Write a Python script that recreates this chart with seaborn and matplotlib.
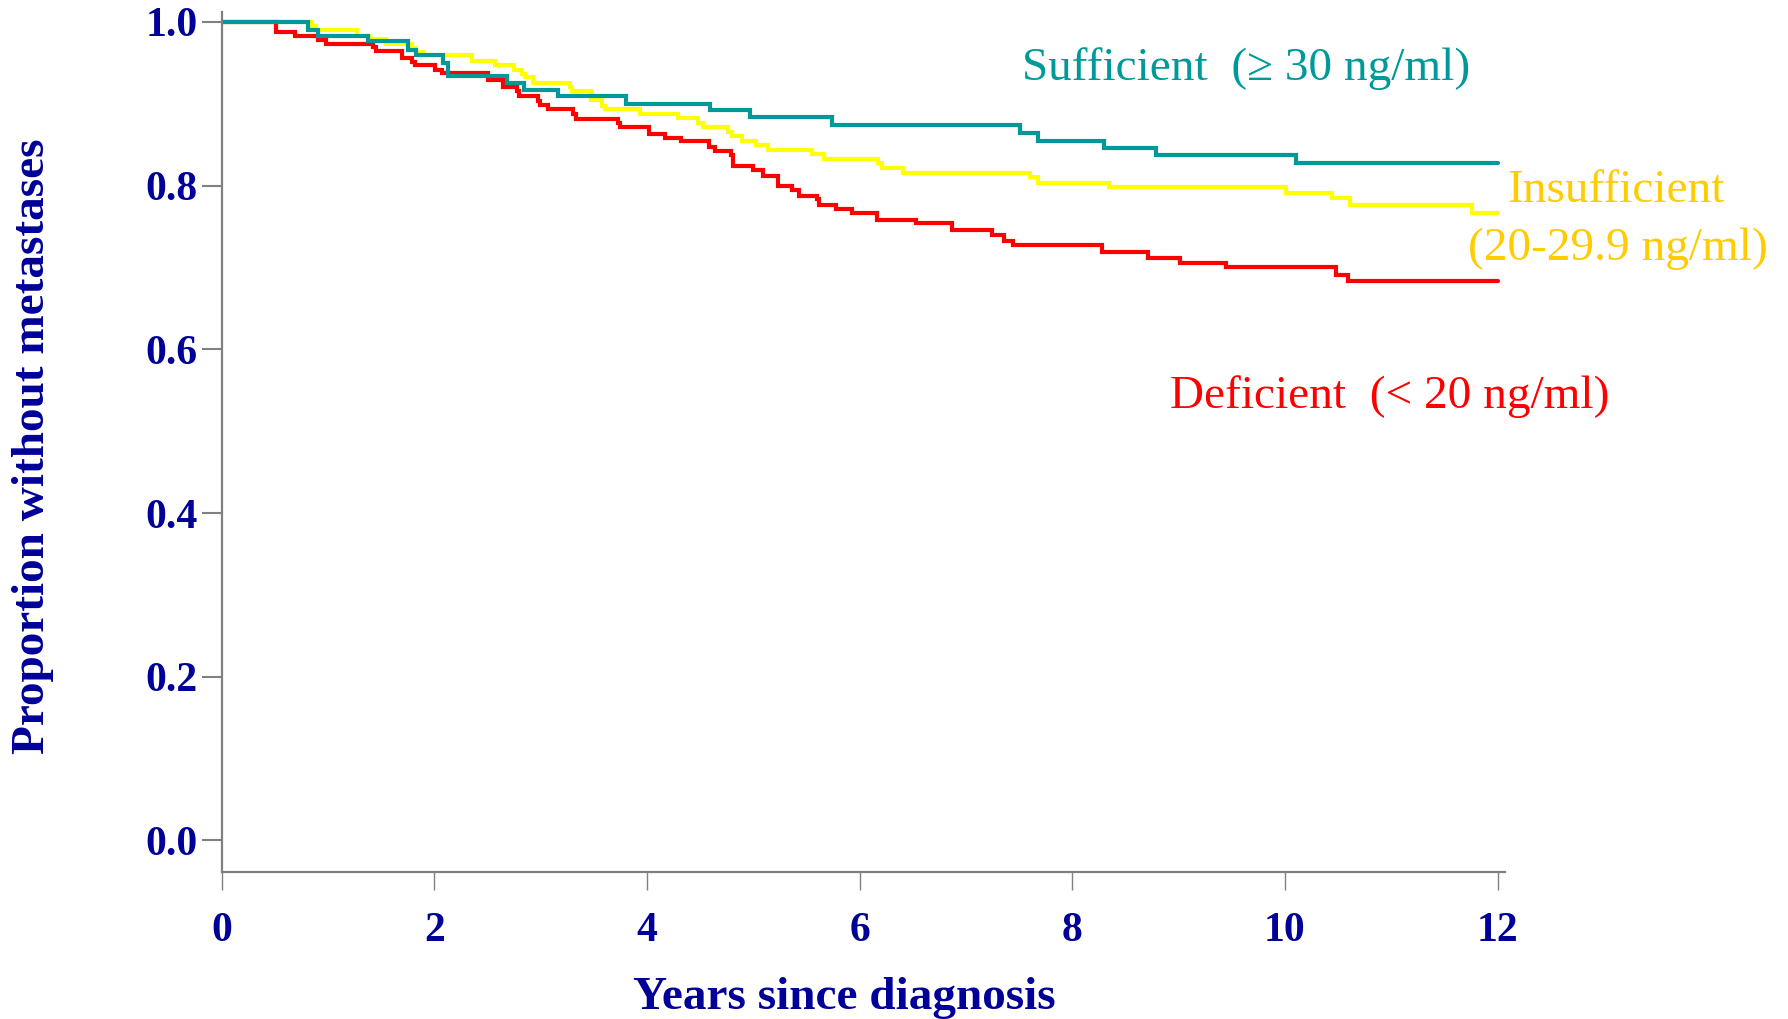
import numpy as np
import pandas as pd
import matplotlib
matplotlib.use("Agg")
import matplotlib.pyplot as plt
import seaborn as sns

# ---- data ----
groups = ["Insufficient", "Deficient", "Sufficient"]

suff_t = [0, 0.815, 0.903, 1.379, 1.755, 1.827, 2.078, 2.131, 2.680, 2.843, 3.166,
          3.802, 4.592, 4.969, 5.737, 7.508, 7.680, 8.298, 8.787, 10.103, 12.0]
suff_s = [1.0, 0.990, 0.983, 0.976, 0.966, 0.959, 0.950, 0.934, 0.925, 0.917, 0.910,
          0.900, 0.892, 0.884, 0.874, 0.864, 0.854, 0.846, 0.837, 0.827, 0.827]

insuff_t = [0, 0.846, 0.883, 1.270, 1.385, 1.542, 1.786, 1.827, 1.896, 2.351, 2.570,
            2.749, 2.821, 2.852, 2.931, 3.276, 3.298, 3.470, 3.574, 3.605, 3.934,
            4.288, 4.477, 4.529, 4.765, 4.802, 4.890, 5.022, 5.135, 5.549, 5.664,
            6.175, 6.213, 6.411, 7.602, 7.674, 8.348, 10.007, 10.439, 10.611, 11.756, 12.0]
insuff_s = [1.0, 0.995, 0.990, 0.983, 0.979, 0.973, 0.968, 0.963, 0.959, 0.952, 0.947,
            0.941, 0.936, 0.932, 0.925, 0.920, 0.915, 0.904, 0.897, 0.893, 0.888,
            0.883, 0.876, 0.871, 0.866, 0.861, 0.854, 0.849, 0.844, 0.839, 0.832,
            0.827, 0.822, 0.815, 0.810, 0.803, 0.798, 0.791, 0.785, 0.776, 0.766, 0.766]

defic_t = [0, 0.508, 0.689, 0.909, 0.981, 1.426, 1.451, 1.693, 1.793, 1.818, 2.006,
           2.069, 2.507, 2.648, 2.780, 2.799, 2.972, 2.994, 3.072, 3.307, 3.329,
           3.730, 3.746, 4.020, 4.169, 4.320, 4.583, 4.639, 4.790, 4.812, 5.000,
           5.094, 5.229, 5.361, 5.432, 5.596, 5.618, 5.774, 5.925, 6.166, 6.527,
           6.865, 7.242, 7.360, 7.445, 8.276, 8.709, 9.013, 9.445, 10.480, 10.596, 12.0]
defic_s = [1.0, 0.988, 0.983, 0.978, 0.9735, 0.969, 0.964, 0.956, 0.951, 0.947, 0.941,
           0.937, 0.929, 0.920, 0.915, 0.910, 0.9035, 0.898, 0.893, 0.887, 0.881,
           0.876, 0.871, 0.863, 0.858, 0.854, 0.847, 0.842, 0.837, 0.824, 0.819,
           0.812, 0.800, 0.795, 0.787, 0.783, 0.776, 0.771, 0.766, 0.758, 0.754,
           0.746, 0.739, 0.732, 0.727, 0.719, 0.712, 0.705, 0.700, 0.691, 0.683, 0.683]

x_ticks = [0, 2, 4, 6, 8, 10, 12]
y_ticks = [0.0, 0.2, 0.4, 0.6, 0.8, 1.0]
y_tick_labels = ["0.0", "0.2", "0.4", "0.6", "0.8", "1.0"]

x_label = "Years since diagnosis"
y_label = "Proportion without metastases"
lab_suff = "Sufficient  (\u2265 30 ng/ml)"
lab_insuff_1 = "Insufficient"
lab_insuff_2 = "(20-29.9 ng/ml)"
lab_defic = "Deficient  (< 20 ng/ml)"

# ---- build table ----
df = pd.concat([
    pd.DataFrame({"t": insuff_t, "s": insuff_s, "group": "Insufficient"}),
    pd.DataFrame({"t": defic_t, "s": defic_s, "group": "Deficient"}),
    pd.DataFrame({"t": suff_t, "s": suff_s, "group": "Sufficient"}),
], ignore_index=True)

palette = {"Sufficient": "#009999", "Insufficient": "#FFFF00", "Deficient": "#FF0000"}
navy = "#000099"
grey = "#808080"

sns.set_style("white")
plt.rcParams["font.family"] = ["Liberation Serif", "DejaVu Serif"]

W, H = 1788, 1019
fig = plt.figure(figsize=(W / 100, H / 100), dpi=100)
fig.patch.set_facecolor("white")

def fx(px):
    return px / W

def fy(py):
    return 1 - py / H

left_px, right_px, top_px, bot_px = 221.7, 1504.5, 12, 872
ax = fig.add_axes([fx(left_px), fy(bot_px), fx(right_px - left_px), (bot_px - top_px) / H])

sns.lineplot(data=df, x="t", y="s", hue="group", hue_order=groups, palette=palette,
             estimator=None, sort=False, drawstyle="steps-post", lw=3.0,
             legend=False, ax=ax)
for ln in ax.get_lines():
    ln.set_linewidth(3.0)
    ln.set_solid_joinstyle("miter")

ax.set_xlim(0, 12.065)
ax.set_ylim(-0.0385, 1.012)
ax.set_xlabel("")
ax.set_ylabel("")

for side in ["top", "right"]:
    ax.spines[side].set_visible(False)
for side in ["left", "bottom"]:
    ax.spines[side].set_color(grey)
    ax.spines[side].set_linewidth(1.6)

ax.set_xticks(x_ticks)
ax.set_xticklabels([str(v) for v in x_ticks])
ax.set_yticks(y_ticks)
ax.set_yticklabels(y_tick_labels)

ax.tick_params(axis="y", direction="out", length=14.5, width=1.5, color=grey, pad=3,
               labelsize=30, labelcolor=navy, left=True)
ax.tick_params(axis="x", direction="out", length=13, width=1.0, color=grey, pad=16,
               labelsize=30, labelcolor=navy, bottom=True)
for lab in ax.get_xticklabels() + ax.get_yticklabels():
    lab.set_fontweight("bold")

# axis titles
fig.text(fx(844), fy(1009), x_label, ha="center", va="baseline", fontsize=34,
         fontweight="bold", color=navy)
fig.text(fx(44), fy(446.5), y_label, ha="center", va="baseline", rotation=90,
         rotation_mode="anchor", fontsize=34, fontweight="bold", color=navy)

# group labels
fig.text(fx(1022), fy(80), lab_suff, ha="left", va="baseline", fontsize=34, color="#009999")
fig.text(fx(1616), fy(202), lab_insuff_1, ha="center", va="baseline", fontsize=34, color="#FFCC00")
fig.text(fx(1618), fy(260), lab_insuff_2, ha="center", va="baseline", fontsize=34, color="#FFCC00")
fig.text(fx(1170), fy(408), lab_defic, ha="left", va="baseline", fontsize=34, color="#FF0000")

fig.savefig("out.png", dpi=100, facecolor="white")
